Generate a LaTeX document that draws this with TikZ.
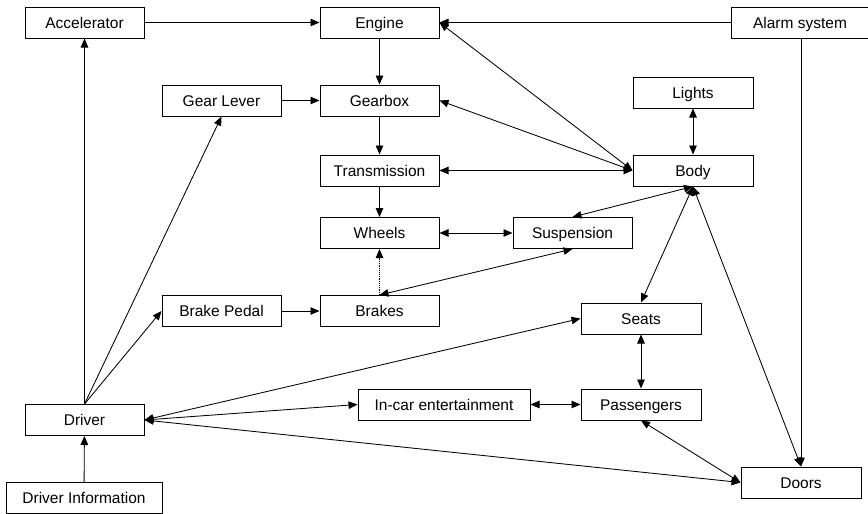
\documentclass[tikz,border=0pt]{standalone}
\usepackage{fontspec}
\setmainfont{Liberation Sans}
\usetikzlibrary{arrows.meta}
\begin{document}
\begin{tikzpicture}[x=1pt,y=-1pt,
  box/.style={draw, line width=1pt, minimum width=119pt, minimum height=31pt, inner sep=0pt, text height=14pt, text depth=3pt, font=\fontsize{15.5}{18}\selectfont},
  conn/.style={line width=0.85pt, draw=black},
  tip/.style={-{Triangle[length=9pt,width=7.5pt]}},
  both/.style={{Triangle[length=9pt,width=7.5pt]}-{Triangle[length=9pt,width=7.5pt]}}
]
\useasboundingbox (0,0) rectangle (868,514);
\node[box] (acc) at (84.5,22.5) {Accelerator};
\node[box] (eng) at (379.5,22.5) {Engine};
\node[box, minimum width=137pt] (alarm) at (800,22.5) {Alarm system};
\node[box] (lever) at (221.5,100.5) {Gear Lever};
\node[box] (gear) at (379.5,100.5) {Gearbox};
\node[box, minimum width=120pt] (lights) at (693,92.5) {Lights};
\node[box] (trans) at (379.5,170.5) {Transmission};
\node[box, minimum width=120pt] (body) at (693,170.5) {Body};
\node[box] (wheels) at (379.5,233) {Wheels};
\node[box] (susp) at (572.5,233) {Suspension};
\node[box] (pedal) at (221.5,311) {Brake Pedal};
\node[box] (brakes) at (379.5,311) {Brakes};
\node[box, minimum width=120pt] (seats) at (641,318.5) {Seats};
\node[box, minimum width=172pt] (ent) at (444,404.5) {In-car entertainment};
\node[box, minimum width=120pt] (pass) at (641,404.5) {Passengers};
\node[box] (driver) at (84.5,420) {Driver};
\node[box, minimum width=156pt] (info) at (84,498) {Driver Information};
\node[box, minimum width=120pt] (doors) at (801,482.5) {Doors};

\draw[conn,tip] (acc) -- (eng);
\draw[conn,tip] (alarm) -- (eng);
\draw[conn,tip] (doors.north |- alarm.south) -- (doors.north);
\draw[conn,tip] (eng) -- (gear);
\draw[conn,tip] (lever) -- (gear);
\draw[conn,tip] (gear) -- (trans);
\draw[conn,tip] (trans) -- (wheels);
\draw[conn,both] (eng.east) -- (body.west);
\draw[conn,both] (gear.east) -- (body.west);
\draw[conn,both] (trans.east) -- (body.west);
\draw[conn,both] (lights) -- (body);
\draw[conn,both] (body.south) -- (susp.north);
\draw[conn,both] (body.south) -- (seats.north);
\draw[conn,both] (body.south) -- (doors.north);
\draw[conn,both] (wheels) -- (susp);
\draw[conn,both] (brakes.north) -- (susp.south);
\draw[conn,tip,densely dotted] (brakes) -- (wheels);
\draw[conn,tip] (pedal) -- (brakes);
\draw[conn,tip] (driver.north) -- (acc.south);
\draw[conn,tip] (driver.north) -- (lever.south);
\draw[conn,tip] (driver.north) -- (pedal.west);
\draw[conn,both] (driver.east) -- (seats.west);
\draw[conn,both] (driver.east) -- (ent.west);
\draw[conn,both] (driver.east) -- (doors.west);
\draw[conn,tip] (info) -- (driver);
\draw[conn,both] (ent) -- (pass);
\draw[conn,both] (seats) -- (pass);
\draw[conn,both] (pass.south) -- (doors.west);
\end{tikzpicture}
\end{document}
